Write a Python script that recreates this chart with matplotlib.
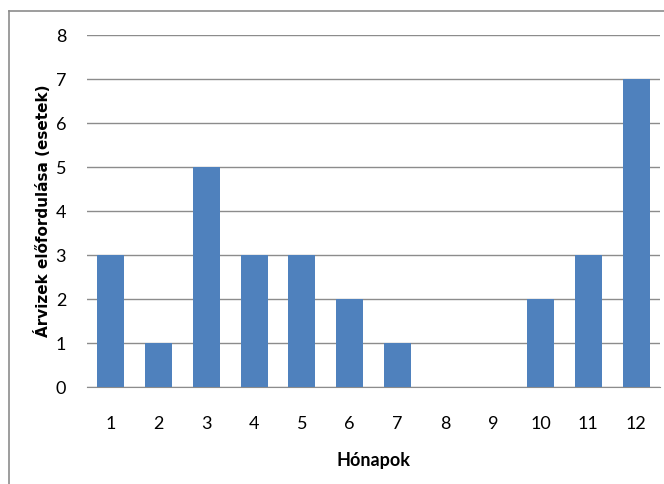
import matplotlib
matplotlib.use("Agg")
import matplotlib.pyplot as plt
from matplotlib.lines import Line2D

# adatok
honapok = [1, 2, 3, 4, 5, 6, 7, 8, 9, 10, 11, 12]
esetek = [3, 1, 5, 3, 3, 2, 1, 0, 0, 2, 3, 7]
y_ticks = [0, 1, 2, 3, 4, 5, 6, 7, 8]

W, H = 664, 484
fig = plt.figure(figsize=(W / 100, H / 100), dpi=100)
ax = fig.add_axes([87 / W, 1 - 387 / H, (660 - 87) / W, (387 - 35) / H])

ax.bar(honapok, esetek, width=0.57, color="#4F81BD", zorder=3)

ax.set_xlim(0.5, 12.5)
ax.set_ylim(0, 8)
ax.set_yticks(y_ticks)
ax.set_xticks(honapok)
ax.yaxis.grid(True, color="#8C8C8C", linewidth=1.0, zorder=0)
for s in ["top", "right", "left"]:
    ax.spines[s].set_visible(False)
ax.spines["bottom"].set_color("#8C8C8C")
ax.tick_params(axis="both", length=0, labelsize=13, colors="black")
ax.tick_params(axis="x", pad=21)
ax.tick_params(axis="y", pad=15)
for lbl in ax.get_xticklabels() + ax.get_yticklabels():
    lbl.set_family("Lato")

ax.set_xlabel("Hónapok", fontsize=13, family="Lato", fontweight="bold", labelpad=14)
ax.set_ylabel("Árvizek előfordulása (esetek)", fontsize=11, family="DejaVu Sans",
              fontweight="bold", labelpad=3)

# keret a diagram körül
fig.add_artist(Line2D([9 / W, 9 / W], [0, 1 - 11 / H], transform=fig.transFigure,
                      color="#8C8C8C", linewidth=1.2))
fig.add_artist(Line2D([9 / W, 1], [1 - 11 / H, 1 - 11 / H], transform=fig.transFigure,
                      color="#8C8C8C", linewidth=1.2))

fig.savefig("out.png", dpi=100)
